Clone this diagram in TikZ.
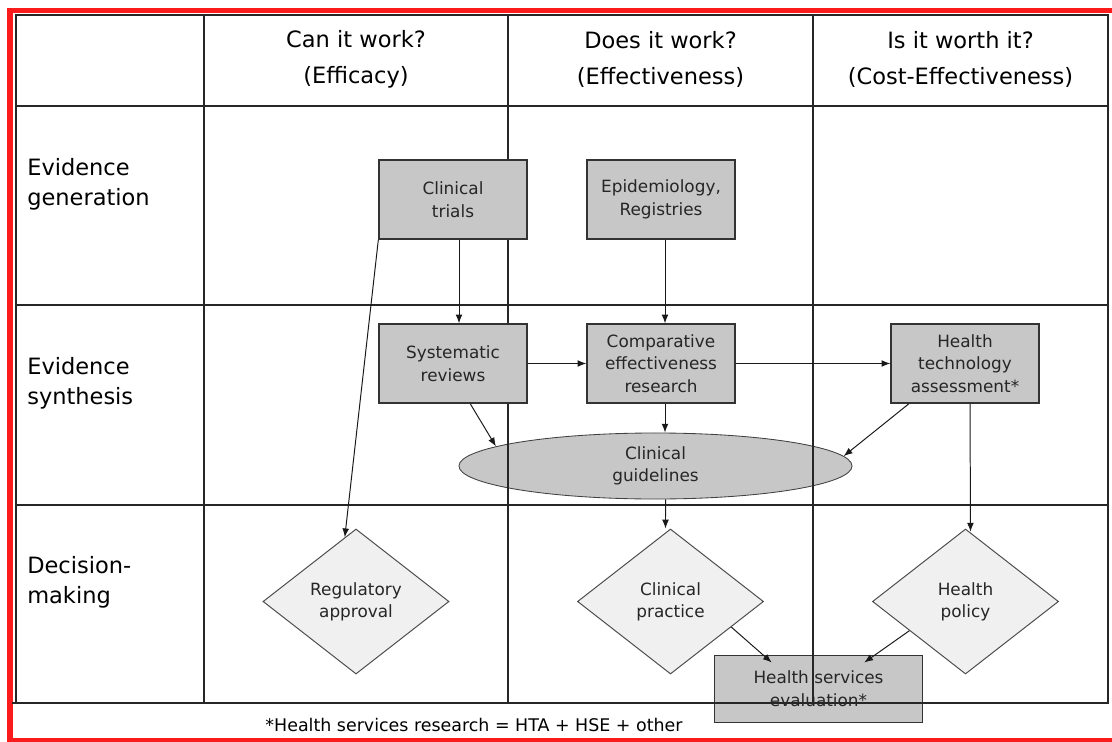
\documentclass[tikz,border=0pt]{standalone}
\usepackage{fontspec}
\setmainfont{DejaVu Sans}
\usetikzlibrary{shapes.geometric,arrows.meta,calc}
\definecolor{framered}{RGB}{250,28,28}

\begin{document}
\begin{tikzpicture}[x=0.025cm, y=-0.025cm, >={Latex[length=2.2mm,width=1.7mm]}]
	\tikzstyle{box} = [rectangle,draw=black!80,fill=black!22,line width=0.9pt,minimum width=3.7cm,minimum height=1.975cm,align=center,text=black!85,font=\fontsize{12}{16}\selectfont]
	\tikzstyle{decision} = [diamond,draw=black!70,fill=black!6,line width=0.7pt,minimum width=4.65cm,minimum height=3.625cm,inner sep=0pt,align=center,text=black!85,font=\fontsize{12}{15.5}\selectfont]
	\tikzstyle{guide} = [ellipse,draw=black!75,fill=black!22,line width=0.6pt,minimum width=9.825cm,minimum height=1.65cm,inner sep=0pt,align=center,text=black!85,font=\fontsize{12}{16}\selectfont]
	\tikzstyle{grid} = [draw=black!85,line width=0.8pt]
	\tikzstyle{head} = [align=center,inner sep=0pt,font=\fontsize{16}{25.6}\selectfont]
	\tikzstyle{lane} = [align=left,anchor=west,inner sep=0pt,font=\fontsize{16}{21.3}\selectfont]
	\tikzstyle{link} = [color=black!90,line width=0.7pt]

	\useasboundingbox (0,0) rectangle (1112,742);
	\fill[framered] (6.5,8) rectangle (1112,13);
	\fill[framered] (6.5,8) rectangle (12.5,742);
	\fill[framered] (6.5,737.5) rectangle (1112,742);

	\node[guide](cg) at (655.5,466){Clinical\\guidelines};
	\node[box,line width=0.7pt,minimum width=5.175cm,minimum height=1.675cm](hse) at (818.5,688.5){Health services\\evaluation*};

	\draw[grid] (16,15) rectangle (1108,703);
	\draw[grid] (12,703) -- (1108,703);
	\foreach \x in {204,508,813} \draw[grid] (\x,15) -- (\x,703);
	\foreach \y in {106,305,505} \draw[grid] (16,\y) -- (1108,\y);

	\node[head](h-1) at (356,59){Can it work?\\(Efficacy)};
	\node[head](h-2) at (660.5,59){Does it work?\\(Effectiveness)};
	\node[head](h-3) at (960.5,59){Is it worth it?\\(Cost-Effectiveness)};

	\node[lane](r-1) at (27,184){Evidence\\generation};
	\node[lane](r-2) at (27,383.5){Evidence\\synthesis};
	\node[lane](r-3) at (27,582){Decision-\\making};

	\node[box](trials) at (453,199.5){Clinical\\trials};
	\node[box](epi) at (661,199.5){Epidemiology,\\Registries};
	\node[box](sr) at (453,363.5){Systematic\\reviews};
	\node[box](cer) at (661,363.5){Comparative\\effectiveness\\research};
	\node[box](hta) at (965,363.5){Health\\technology\\assessment*};

	\node[decision](ra) at (356,601.5){Regulatory\\approval};
	\node[decision](cp) at (670.5,601.5){Clinical\\practice};
	\node[decision](hp) at (965.5,601.5){Health\\policy};

	\node[font=\fontsize{12.4}{14}\selectfont](note) at (474,724.5){*Health services research = HTA + HSE + other};

	\coordinate (hse-in-1) at ($(hse.north west)!0.275!(hse.north east)$);
	\coordinate (hse-in-2) at ($(hse.north west)!0.72!(hse.north east)$);

	\path[link,->] ([xshift=0.15cm]trials.south) edge ([xshift=0.15cm]sr.north)
	([xshift=0.1cm]epi.south) edge ([xshift=0.1cm]cer.north)
	(trials.south west) edge ($(ra.north)!0.12!(ra.west)$)
	(sr.east) edge (cer.west)
	(cer.east) edge (hta.west)
	($(sr.south)!0.23!(sr.south east)$) edge (cg.173)
	([xshift=0.1cm]cer.south) edge ([xshift=0.1cm]cer.south |- cg.north)
	($(hta.south west)!0.125!(hta.south east)$) edge (cg.3)
	([xshift=0.125cm]hta.south) edge ([xshift=0.125cm,yshift=-0.08cm]hp.north)
	([xshift=0.25cm]cg.south) edge ([xshift=-0.125cm]cp.north)
	($(cp.east)!0.35!(cp.south)$) edge ([yshift=-0.2cm]hse-in-1)
	($(hp.west)!0.4!(hp.south)$) edge ([yshift=-0.2cm]hse-in-2);
\end{tikzpicture}
\end{document}
